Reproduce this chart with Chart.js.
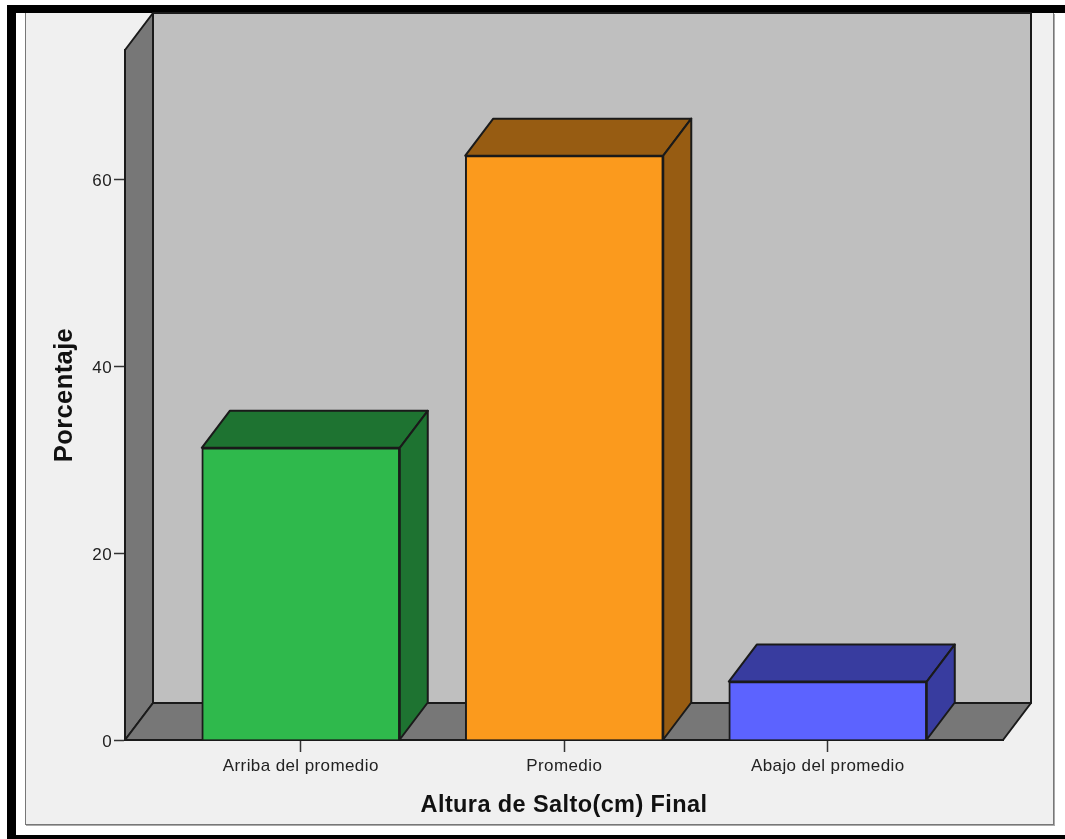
<!DOCTYPE html>
<html>
<head>
<meta charset="utf-8">
<script src="https://cdn.jsdelivr.net/npm/chart.js@4"></script>
<style>
    html, body { margin: 0; padding: 0; background: #fff; overflow: hidden; }
    #frame { position: absolute; left: 7px; top: 5px; width: 1058px; height: 834px; box-sizing: border-box;
        border-left: 9px solid #000; border-top: 8px solid #000; border-bottom: 4px solid #000; }
    #panel { position: absolute; left: 25px; top: 13px; width: 1029px; height: 812px; box-sizing: border-box;
        background: #f0f0f0; border: 1px solid #777; border-top: none; box-shadow: 1px 1px 0 #aaa; }
    #wrap { position: absolute; left: 0; top: 0; width: 1065px; height: 839px; }
</style>
</head>
<body>
<div id="frame"></div>
<div id="panel"></div>
<div id="wrap"><canvas id="jumpChart" width="1065" height="839"></canvas></div>
<script>
const categories = ['Arriba del promedio', 'Promedio', 'Abajo del promedio'];
const percentages = [31.25, 62.5, 6.25];
const yTicks = [0, 20, 40, 60];
const frontColors = ['#2fb94c', '#fb9a1d', '#5c63ff'];
const shadeColors = ['#1e7331', '#975c12', '#383c9f'];

const DEPTH_X = 28, DEPTH_Y = 37;
const LINE = '#1a1a1a';

function poly(ctx, pts, fill) {
    ctx.beginPath();
    pts.forEach((p, i) => i ? ctx.lineTo(p[0], p[1]) : ctx.moveTo(p[0], p[1]));
    ctx.closePath();
    ctx.fillStyle = fill;
    ctx.fill();
    ctx.lineWidth = 2;
    ctx.strokeStyle = LINE;
    ctx.lineJoin = 'round';
    ctx.stroke();
}

// walls and floor behind the bars, bar depth in front of them
const box3d = {
    id: 'box3d',
    beforeDraw(chart) {
        // reference text is wider than Liberation Sans at the same height
        chart.ctx.letterSpacing = '0.4px';
    },
    beforeDatasetsDraw(chart) {
        const { ctx, chartArea: a } = chart;
        ctx.save();
        poly(ctx, [[a.left + DEPTH_X, a.top - DEPTH_Y], [a.right + DEPTH_X, a.top - DEPTH_Y],
            [a.right + DEPTH_X, a.bottom - DEPTH_Y], [a.left + DEPTH_X, a.bottom - DEPTH_Y]], '#bfbfbf');
        poly(ctx, [[a.left, a.top], [a.left + DEPTH_X, a.top - DEPTH_Y],
            [a.left + DEPTH_X, a.bottom - DEPTH_Y], [a.left, a.bottom]], '#777777');
        poly(ctx, [[a.left, a.bottom], [a.left + DEPTH_X, a.bottom - DEPTH_Y],
            [a.right + DEPTH_X, a.bottom - DEPTH_Y], [a.right, a.bottom]], '#777777');
        ctx.restore();
    },
    afterDatasetsDraw(chart) {
        const { ctx } = chart;
        ctx.save();
        chart.getDatasetMeta(0).data.forEach((bar, i) => {
            const p = bar.getProps(['x', 'y', 'base', 'width'], true);
            const l = p.x - p.width / 2, r = p.x + p.width / 2;
            poly(ctx, [[l, p.y], [l + DEPTH_X, p.y - DEPTH_Y], [r + DEPTH_X, p.y - DEPTH_Y], [r, p.y]], shadeColors[i]);
            poly(ctx, [[r, p.y], [r + DEPTH_X, p.y - DEPTH_Y], [r + DEPTH_X, p.base - DEPTH_Y], [r, p.base]], shadeColors[i]);
        });
        ctx.restore();
    }
};

new Chart(document.getElementById('jumpChart'), {
    type: 'bar',
    plugins: [box3d],
    data: {
        datasets: [{
            data: percentages.map((v, i) => ({ x: i, y: v })),
            backgroundColor: frontColors,
            borderColor: LINE,
            borderWidth: 2,
            barThickness: 198
        }]
    },
    options: {
        responsive: false,
        animation: false,
        layout: { padding: { left: 48, top: 50, right: 62, bottom: 19 } },
        plugins: { legend: { display: false }, tooltip: { enabled: false } },
        scales: {
            x: {
                type: 'linear',
                offset: false,
                min: -0.667,
                max: 2.665,
                afterBuildTicks: scale => { scale.ticks = categories.map((c, i) => ({ value: i })); },
                afterFit: scale => { scale.height = 80; },
                grid: { offset: false, drawOnChartArea: false, tickLength: 12, tickColor: '#333', tickWidth: 1.5 },
                border: { color: LINE, width: 2 },
                ticks: {
                    autoSkip: false,
                    maxRotation: 0,
                    padding: 4,
                    color: '#222',
                    font: { family: 'Liberation Sans', size: 17 },
                    callback: v => categories[v]
                },
                title: {
                    display: true,
                    text: 'Altura de Salto(cm) Final',
                    color: '#111',
                    font: { family: 'Liberation Sans', size: 23.5, weight: 'bold' },
                    padding: { top: 10, bottom: 0 }
                }
            },
            y: {
                min: 0,
                max: 73.8,
                afterBuildTicks: scale => { scale.ticks = yTicks.map(v => ({ value: v })); },
                afterFit: scale => { scale.width = 77; },
                grid: { drawOnChartArea: false, tickLength: 11, tickColor: '#333', tickWidth: 1.5 },
                border: { color: LINE, width: 2 },
                ticks: {
                    padding: 2,
                    labelOffset: 2,
                    color: '#222',
                    font: { family: 'Liberation Sans', size: 17 }
                },
                title: {
                    display: true,
                    text: 'Porcentaje',
                    color: '#111',
                    font: { family: 'Liberation Sans', size: 25.5, weight: 'bold' },
                    padding: { top: 2, bottom: 0 }
                }
            }
        }
    }
});
</script>
</body>
</html>
